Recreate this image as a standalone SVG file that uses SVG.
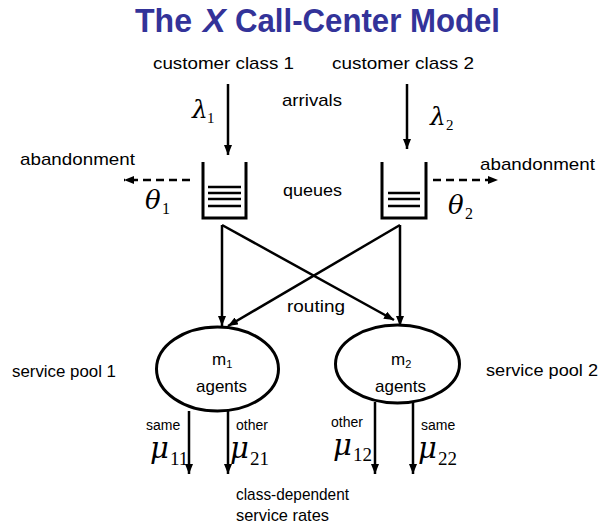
<svg xmlns="http://www.w3.org/2000/svg" width="604" height="527" viewBox="0 0 604 527">
<style>
.lbl{font-family:"Liberation Sans",Arial,sans-serif;font-size:17px;fill:#000}
.sm{font-family:"Liberation Sans",Arial,sans-serif;font-size:14px;fill:#000}
.ttl{font-family:"Liberation Sans",Arial,sans-serif;font-weight:bold;font-size:34px;fill:#333399}
.gr{font-family:"DejaVu Serif","Liberation Serif",serif;font-style:italic;fill:#000}
.sub{font-family:"Liberation Serif","Times New Roman",serif;fill:#000}
.ln{stroke:#000;stroke-width:2.5;fill:none}
.dash{stroke:#000;stroke-width:2.5;fill:none;stroke-dasharray:8 5}
.box{stroke:#000;stroke-width:3;fill:none}
.ell{stroke:#000;stroke-width:3;fill:#fff}
</style>
<defs>
<marker id="ah" markerUnits="userSpaceOnUse" markerWidth="10" markerHeight="8" refX="10" refY="4" orient="auto">
<path d="M0,0 L10,4 L0,8 z" fill="#000"/>
</marker>
</defs>
<text class="ttl" x="135" y="32" textLength="57" lengthAdjust="spacingAndGlyphs">The</text>
<text class="ttl" x="203" y="32" font-style="italic">X</text>
<text class="ttl" x="235" y="32" textLength="265" lengthAdjust="spacingAndGlyphs">Call-Center Model</text>

<text class="lbl" x="153" y="69" textLength="141" lengthAdjust="spacingAndGlyphs">customer class 1</text>
<text class="lbl" x="332" y="69" textLength="142" lengthAdjust="spacingAndGlyphs">customer class 2</text>
<text class="lbl" x="282" y="106" textLength="60" lengthAdjust="spacingAndGlyphs">arrivals</text>
<text class="lbl" x="283" y="196" textLength="59" lengthAdjust="spacingAndGlyphs">queues</text>
<text class="lbl" x="20" y="165" textLength="115" lengthAdjust="spacingAndGlyphs">abandonment</text>
<text class="lbl" x="480" y="170" textLength="115" lengthAdjust="spacingAndGlyphs">abandonment</text>
<text class="lbl" x="287" y="312" textLength="58" lengthAdjust="spacingAndGlyphs">routing</text>
<text class="lbl" x="12" y="377" textLength="104" lengthAdjust="spacingAndGlyphs">service pool 1</text>
<text class="lbl" x="486" y="376" textLength="112" lengthAdjust="spacingAndGlyphs">service pool 2</text>
<text class="lbl" x="236" y="500" textLength="113" lengthAdjust="spacingAndGlyphs">class-dependent</text>
<text class="lbl" x="236" y="521" textLength="93" lengthAdjust="spacingAndGlyphs">service rates</text>

<g id="connectors">
<line class="ln" x1="228" y1="84" x2="228" y2="155" marker-end="url(#ah)"/>
<line class="ln" x1="407" y1="84" x2="407" y2="149" marker-end="url(#ah)"/>
<line class="dash" x1="190" y1="180" x2="124" y2="180" marker-end="url(#ah)"/>
<line class="dash" x1="433" y1="180" x2="498" y2="180" marker-end="url(#ah)"/>
<line class="ln" x1="222" y1="225" x2="222" y2="326" marker-end="url(#ah)"/>
<line class="ln" x1="222" y1="225" x2="394" y2="320" marker-end="url(#ah)"/>
<line class="ln" x1="400" y1="225" x2="400" y2="326" marker-end="url(#ah)"/>
<line class="ln" x1="400" y1="225" x2="228" y2="326" marker-end="url(#ah)"/>
<line class="ln" x1="189" y1="411" x2="189" y2="474" marker-end="url(#ah)"/>
<line class="ln" x1="228" y1="411" x2="228" y2="474" marker-end="url(#ah)"/>
<line class="ln" x1="375" y1="402" x2="375" y2="474" marker-end="url(#ah)"/>
<line class="ln" x1="413" y1="402" x2="413" y2="474" marker-end="url(#ah)"/>
</g>

<g id="queue1">
<path class="box" d="M203,162 V218 H246 V162"/>
<path class="ln" d="M208,187 H241 M208,193 H241 M208,199 H241 M208,206 H241"/>
</g>
<g id="queue2">
<path class="box" d="M382,162 V218 H426 V162"/>
<path class="ln" d="M388,193 H420 M388,199 H420 M388,206 H420"/>
</g>

<g id="pool1">
<ellipse class="ell" cx="217.5" cy="369" rx="61" ry="42"/>
<text class="lbl" x="212" y="365">m<tspan font-size="11" dy="3">1</tspan></text>
<text class="lbl" x="196" y="392" textLength="51" lengthAdjust="spacingAndGlyphs">agents</text>
</g>
<g id="pool2">
<ellipse class="ell" cx="397.5" cy="364" rx="62" ry="39"/>
<text class="lbl" x="391" y="365">m<tspan font-size="11" dy="3">2</tspan></text>
<text class="lbl" x="375" y="392" textLength="51" lengthAdjust="spacingAndGlyphs">agents</text>
</g>

<g id="rates">
<text class="gr" x="192" y="118" font-size="25">λ</text><text class="sub" x="207" y="123" font-size="15">1</text>
<text class="gr" x="430" y="125" font-size="25">λ</text><text class="sub" x="446" y="130" font-size="15">2</text>
<text class="gr" x="145" y="209" font-size="26">θ</text><text class="sub" x="162" y="214" font-size="16">1</text>
<text class="gr" x="448" y="214" font-size="26">θ</text><text class="sub" x="465" y="219" font-size="16">2</text>

<text class="sm" x="146" y="430">same</text>
<text class="sm" x="236" y="430">other</text>
<text class="sm" x="331" y="427">other</text>
<text class="sm" x="421" y="430">same</text>

<text class="gr" x="150" y="458" font-size="29">μ</text><text class="sub" x="170" y="465" font-size="19">11</text>
<text class="gr" x="230" y="458" font-size="29">μ</text><text class="sub" x="250" y="465" font-size="19">21</text>
<text class="gr" x="333" y="455" font-size="29">μ</text><text class="sub" x="353" y="461" font-size="19">12</text>
<text class="gr" x="418" y="458" font-size="29">μ</text><text class="sub" x="438" y="465" font-size="19">22</text>
</g>
</svg>
